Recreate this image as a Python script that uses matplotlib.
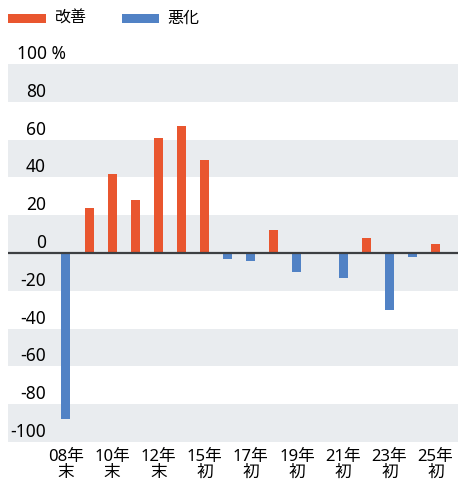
import matplotlib
matplotlib.use("Agg")
import matplotlib.pyplot as plt
from matplotlib.patches import Rectangle
from matplotlib.transforms import offset_copy

plt.rcParams['font.family'] = ['Noto Sans', 'Noto Sans CJK JP', 'DejaVu Sans']

# DI (improved minus worsened), one value per survey period
values = [-88, 24, 42, 28, 61, 67, 49, -3, -4, 12, -10, 0, -13, 8, -30, -2, 5]
tick_pos = [0, 2, 4, 6, 8, 10, 12, 14, 16]
tick_labels = ["08年\n末", "10年\n末", "12年\n末", "15年\n初", "17年\n初",
               "19年\n初", "21年\n初", "23年\n初", "25年\n初"]
y_ticks = [100, 80, 60, 40, 20, 0, -20, -40, -60, -80, -100]
series_names = ["改善", "悪化"]

RED = "#E9562F"
BLUE = "#5182C5"
BAND = "#E9ECEF"

W, H = 458, 482
fig = plt.figure(figsize=(W / 100, H / 100), dpi=100)
ax = fig.add_axes([8 / W, 1 - 442 / H, 450 / W, (442 - 64) / H])

# alternating background bands
for lo, hi in [(80, 100), (40, 60), (-20, 20), (-60, -40), (-100, -80)]:
    ax.axhspan(lo, hi, color=BAND, lw=0, zorder=0)

x = list(range(len(values)))
colors = [RED if v >= 0 else BLUE for v in values]
ax.bar(x, values, width=0.39, color=colors, zorder=2)
ax.axhline(0, color="#3c3f42", lw=1.6, zorder=3)

ax.set_xlim(-2.51, 16.97)
ax.set_ylim(-100, 100)
for s in ax.spines.values():
    s.set_visible(False)
ax.set_yticks([])
ax.set_xticks(tick_pos)
ax.set_xticklabels(tick_labels, fontsize=12, linespacing=1.0)
ax.tick_params(axis="x", length=0, pad=5)

# y labels sit just above their gridline
tr = offset_copy(ax.get_yaxis_transform(), fig=fig, x=0, y=10, units="dots")
for v in y_ticks:
    if v == 100:
        ax.text((17 - 8) / 450, v, "100 %", transform=tr, ha="left",
                va="center", fontsize=12.5)
    else:
        ax.text((46 - 8) / 450, v, str(v), transform=tr, ha="right",
                va="center", fontsize=12.5)

# legend
for (x0, x1, tx), name, c in zip([(8, 46, 55), (122, 159, 167)], series_names, [RED, BLUE]):
    fig.add_artist(Rectangle((x0 / W, 1 - 23 / H), (x1 - x0) / W, 9 / H,
                             transform=fig.transFigure, color=c, lw=0))
    fig.text(tx / W, 1 - 18.5 / H, name, ha="left", va="center", fontsize=11.5)

fig.savefig("out.png", dpi=100)
